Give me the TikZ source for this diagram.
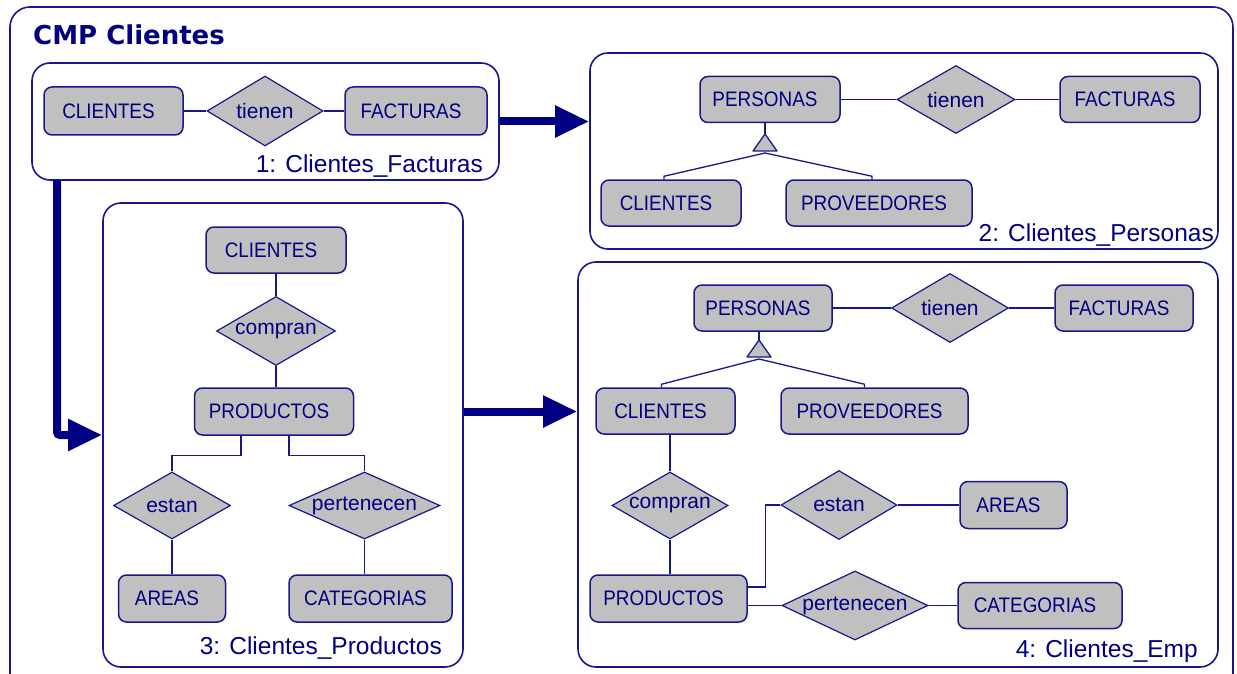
\documentclass[tikz,border=0pt]{standalone}
\usepackage{fontspec}
\setmainfont{Liberation Sans}
\newfontfamily\titlefont{DejaVu Sans}
\newfontfamily\entfont[FakeStretch=0.9]{Liberation Sans}
\usetikzlibrary{shapes.geometric,arrows.meta,calc}
\definecolor{ink}{RGB}{0,0,128}
\definecolor{edge}{RGB}{24,24,140}
\definecolor{boxfill}{RGB}{192,192,192}

\begin{document}
\begin{tikzpicture}[x=1pt,y=-1pt,
  ent/.style={draw=edge, fill=boxfill, line width=1.5pt, rounded corners=8pt,
    inner sep=0pt, text=ink, font=\entfont\fontsize{21}{22}\selectfont,
    execute at begin node={\hspace*{-10pt}}},
  rel/.style={draw=edge, fill=boxfill, line width=1.2pt, diamond, aspect=2.2,
    inner sep=0pt, text=ink, font=\fontsize{21}{22}\selectfont},
  link/.style={draw=edge, line width=1.3pt},
  isa/.style={draw=edge, fill=boxfill, line width=1.3pt, line join=round},
  frame/.style={draw=edge, line width=1.6pt, rounded corners=18pt, inner sep=0pt},
  sub/.style={text=ink, font=\fontsize{24.5}{26}\selectfont, inner sep=0pt,
    anchor=base east},
  flow/.style={draw=ink, line width=8pt, -{Triangle[length=34pt,width=30pt]}},
]
\useasboundingbox (0,0) rectangle (1237,674);
\clip (0,0) rectangle (1237,674);

% outer model frame and title
\draw[frame, rounded corners=20pt] (10,7) rectangle (1233,695);
\node[anchor=base west, inner sep=0pt, text=ink,
  font=\titlefont\bfseries\fontsize{26}{28}\selectfont] (title) at (33,45) {CMP Clientes};

% sub-model frames
\node[frame, minimum width=467pt, minimum height=117pt] (b1) at (265.5,121.5) {};
\node[frame, minimum width=628pt, minimum height=196pt] (b2) at (904,151) {};
\node[frame, minimum width=360pt, minimum height=464pt] (b3) at (283,435) {};
\node[frame, minimum width=640pt, minimum height=405pt] (b4) at (898,464.5) {};

\node[sub] (l1) at (483,172) {1: Clientes\_Facturas};
\node[sub] (l2) at (1214,241) {2: Clientes\_Personas};
\node[sub] (l3) at (442,654) {3: Clientes\_Productos};
\node[sub] (l4) at (1198,657) {4: Clientes\_Emp};

% 1: Clientes_Facturas
\node[ent, minimum width=139pt, minimum height=48pt] (c1) at (113.5,111) {CLIENTES};
\node[rel, minimum width=116pt, minimum height=70pt] (r1) at (265,111) {tienen};
\node[ent, minimum width=142pt, minimum height=48pt] (f1) at (416,111) {FACTURAS};
\draw[link] (c1) -- (r1) -- (f1);

% 2: Clientes_Personas
\node[ent, minimum width=140pt, minimum height=46pt] (e2a) at (770,99.5) {PERSONAS};
\node[rel, minimum width=118pt, minimum height=68pt] (r2) at (956,99.5) {tienen};
\node[ent, minimum width=140pt, minimum height=46pt] (e2b) at (1130,99.5) {FACTURAS};
\node[ent, minimum width=140pt, minimum height=46pt] (e2c) at (671,203) {CLIENTES};
\node[ent, minimum width=186pt, minimum height=46pt] (e2d) at (879,203) {PROVEEDORES};
\draw[link] (e2a) -- (r2) -- (e2b);
\coordinate (isa2) at (765,134);
\coordinate (isa2b) at (765,153);
\draw[link] (isa2 |- e2a.south) -- (isa2);
\draw[isa] (isa2) -- ++(-12,17) -- ++(24,0) -- cycle;
\draw[link] (isa2b) -- ($(e2c.north)+(-7,-3)$) -- ++(0,3);
\draw[link] (isa2b) -- ($(e2d.north)+(-7,-3)$) -- ++(0,3);

% 3: Clientes_Productos
\node[ent, minimum width=140pt, minimum height=46pt] (e3a) at (276,250) {CLIENTES};
\node[rel, minimum width=119pt, minimum height=69pt] (r3a) at (276,331) {compran};
\node[ent, minimum width=159pt, minimum height=47pt] (e3b) at (274,411.5) {PRODUCTOS};
\node[rel, minimum width=117pt, minimum height=67pt] (r3b) at (172,505.5) {estan};
\node[rel, minimum width=151pt, minimum height=67pt] (r3c) at (364.5,505.5) {pertenecen};
\node[ent, minimum width=107pt, minimum height=47pt] (e3c) at (172,598.5) {AREAS};
\node[ent, minimum width=163pt, minimum height=47pt] (e3d) at (370.5,598.5) {CATEGORIAS};
\draw[link] (e3a) -- (r3a);
\draw[link] (r3a.south) -- (r3a.south |- e3b.north);
\draw[link] ($(e3b.south)+(-33,0)$) -- ++(0,20) -| (r3b.north);
\draw[link] ($(e3b.south)+(15,0)$) -- ++(0,20) -| (r3c.north);
\draw[link] (r3b) -- (e3c);
\draw[link] (r3c.south) -- (r3c.south |- e3d.north);

% 4: Clientes_Emp
\node[ent, minimum width=138pt, minimum height=46pt] (e4a) at (763,308) {PERSONAS};
\node[rel, minimum width=117pt, minimum height=69pt] (r4a) at (950,308) {tienen};
\node[ent, minimum width=138pt, minimum height=46pt] (e4b) at (1124,308) {FACTURAS};
\node[ent, minimum width=139pt, minimum height=46pt] (e4c) at (665.5,411) {CLIENTES};
\node[ent, minimum width=187pt, minimum height=46pt] (e4d) at (874.5,411) {PROVEEDORES};
\node[rel, minimum width=114pt, minimum height=67pt] (r4b) at (670,505.5) {compran};
\node[ent, minimum width=157pt, minimum height=47pt] (e4e) at (668.5,598.5) {PRODUCTOS};
\node[rel, minimum width=116pt, minimum height=69pt] (r4c) at (839,505) {estan};
\node[ent, minimum width=107pt, minimum height=47pt] (e4f) at (1013.5,505) {AREAS};
\node[rel, minimum width=146pt, minimum height=69pt] (r4d) at (855,605.5) {pertenecen};
\node[ent, minimum width=164pt, minimum height=46pt] (e4g) at (1040,605.5) {CATEGORIAS};
\draw[link] (e4a) -- (r4a) -- (e4b);
\coordinate (isa4) at (759,340);
\coordinate (isa4b) at (759,359);
\draw[link] (isa4 |- e4a.south) -- (isa4);
\draw[isa] (isa4) -- ++(-12,17) -- ++(24,0) -- cycle;
\draw[link] (isa4b) -- ($(e4c.north)+(-4,-3)$) -- ++(0,3);
\draw[link] (isa4b) -- ($(e4d.north)+(-10,-3)$) -- ++(0,3);
\draw[link] (e4c.south -| r4b.north) -- (r4b.north);
\draw[link] (r4b.south) -- (r4b.south |- e4e.north);
\draw[link] ($(e4e.east)+(0,-11.5)$) -- ++(18,0) |- (r4c.west);
\draw[link] (r4d.west -| e4e.east) -- (r4d.west);
\draw[link] (r4c) -- (e4f);
\draw[link] (r4d) -- (e4g);

% composition flow between sub-models
\draw[flow] (b1.east) -- (b1.east -| b2.west);
\coordinate (down) at (57,180);
\draw[flow, rounded corners=3pt] (down) |- (b3.west);
\draw[flow] (b3.east |- e3b.center) -- (b4.west |- e3b.center);
\end{tikzpicture}
\end{document}
